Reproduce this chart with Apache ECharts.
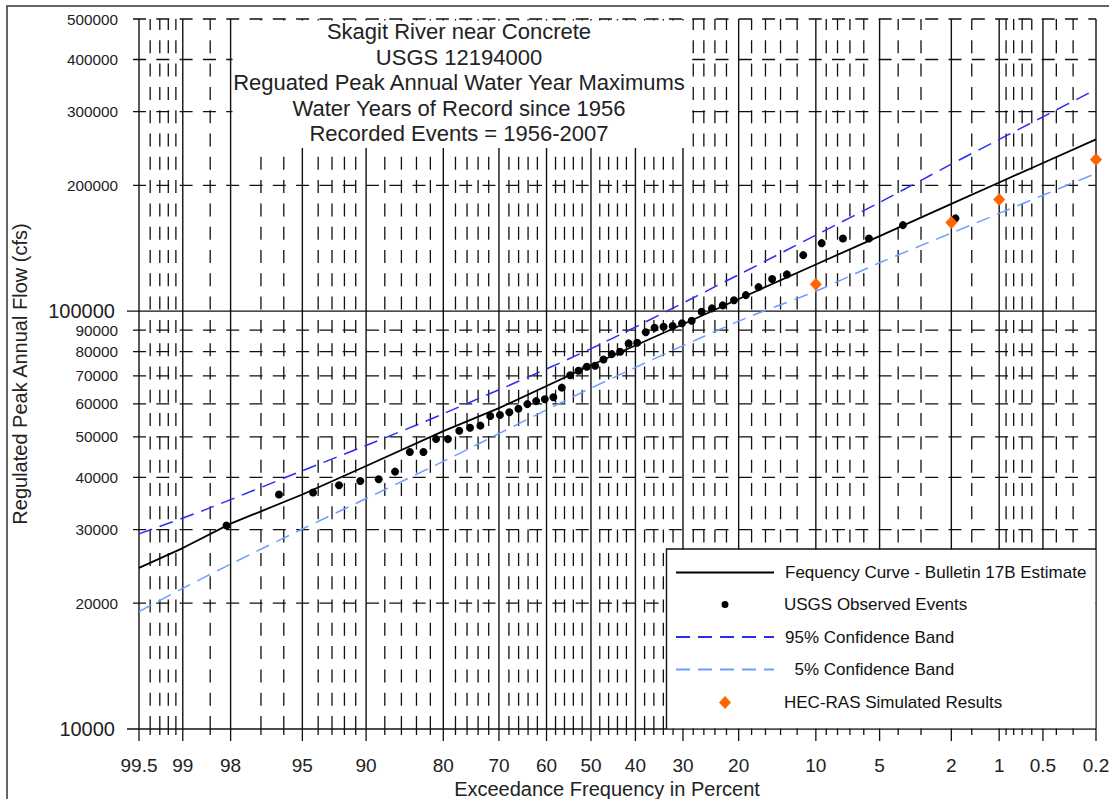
<!DOCTYPE html>
<html>
<head>
<meta charset="utf-8">
<script src="https://cdn.jsdelivr.net/npm/echarts@6/dist/echarts.min.js"></script>
<style>html,body{margin:0;padding:0;background:#fff}#c{width:1109px;height:799px}</style>
</head>
<body>
<div id="c"></div>
<script>
// ---------------- DATA ----------------
const titleLines = [
  'Skagit River near Concrete',
  'USGS 12194000',
  'Reguated Peak Annual Water Year Maximums',
  'Water Years of Record since 1956',
  'Recorded Events = 1956-2007'
];
const xAxisTitle = 'Exceedance Frequency in Percent';
const yAxisTitle = 'Regulated Peak Annual Flow (cfs)';

// exceedance-percent grid (normal probability paper)
const xMajorProbs = [99.5, 99, 98, 95, 90, 80, 70, 60, 50, 40, 30, 20, 10, 5, 2, 1, 0.5, 0.2];
const xTickLabels = ['99.5', '99', '98', '95', '90', '80', '70', '60', '50', '40', '30', '20', '10', '5', '2', '1', '0.5', '0.2'];
const xMinorProbs = [99.4, 99.3, 99.2, 99.1, 98.5, 97, 96, 94, 93, 92, 91, 88, 86, 84, 82, 78, 76, 74, 72,
  68, 66, 64, 62, 58, 56, 54, 52, 48, 46, 44, 42, 38, 36, 34, 32, 28, 26, 24, 22, 18, 16, 14, 12,
  9, 8, 7, 6, 4, 3, 1.5, 0.9, 0.8, 0.7, 0.6, 0.4, 0.3];

// flow grid (log)
const yMajorFlows = [10000, 100000];
const yMajorLabels = ['10000', '100000'];
const yMinorFlows = [20000, 30000, 40000, 50000, 60000, 70000, 80000, 90000, 200000, 300000, 400000, 500000];
const yMinorLabels = ['20000', '30000', '40000', '50000', '60000', '70000', '80000', '90000', '200000', '300000', '400000', '500000'];
const yMin = 10000, yMax = 500000;
const xMinProb = 99.5, xMaxProb = 0.2;

// Frequency curve - Bulletin 17B estimate
const curveProbs = [99.5, 99, 98, 95, 90, 80, 70, 50, 30, 20, 10, 5, 2, 1, 0.5, 0.2];
const curveFlows = [24300, 27100, 31000, 36400, 42600, 51600, 58600, 74200, 93000, 106900, 129300, 151200, 180500, 203100, 226200, 257500];

// 95% confidence band
const upperProbs = [99.5, 98.6, 95, 90, 80, 50, 20, 10, 5, 2, 1, 0.5, 0.2];
const upperFlows = [29300, 33500, 41500, 47700, 56800, 81300, 122200, 152000, 182000, 224700, 257500, 291700, 339200];

// 5% confidence band
const lowerProbs = [99.5, 99, 98, 95, 90, 80, 50, 20, 10, 5, 2, 1, 0.5, 0.2];
const lowerFlows = [19100, 21700, 24800, 30100, 35600, 43700, 65400, 94600, 111600, 130500, 153700, 171300, 189400, 213500];

// USGS observed events (plotting positions, %)
const obsProbs = [1.89, 3.77, 5.66, 7.55, 9.43, 11.32, 13.21, 15.09, 16.98, 18.87, 20.75, 22.64, 24.53,
  26.42, 28.30, 30.19, 32.08, 33.96, 35.85, 37.74, 39.62, 41.51, 43.40, 45.28, 47.17, 49.06, 50.94,
  52.83, 54.72, 56.60, 58.49, 60.38, 62.26, 64.15, 66.04, 67.92, 69.81, 71.70, 73.58, 75.47, 77.36,
  79.25, 81.13, 83.02, 84.91, 86.79, 88.68, 90.57, 92.45, 94.34, 96.23, 98.11];
const obsFlows = [166700, 160600, 149200, 149200, 145400, 136100, 122400, 119300, 114100, 109200, 106200, 103200, 101500,
  99600, 94800, 93500, 92100, 91700, 91200, 89000, 84000, 83700, 79900, 78900, 76600, 74000, 73600,
  72000, 70200, 65600, 62200, 61500, 60900, 59900, 58400, 57300, 56400, 56100, 53200, 52600, 51700,
  49400, 49400, 46000, 46000, 41300, 39600, 39200, 38300, 36800, 36400, 30700];

// HEC-RAS simulated results
const hecProbs = [10, 2, 1, 0.2];
const hecFlows = [116000, 163000, 185000, 230700];

// -------------- helpers --------------
// inverse standard normal CDF (Acklam)
function invNorm(p) {
  const a = [-39.69683028665376, 220.9460984245205, -275.9285104469687, 138.3577518672690, -30.66479806614716, 2.506628277459239];
  const b = [-54.47609879822406, 161.5858368580409, -155.6989798598866, 66.80131188771972, -13.28068155288572];
  const c = [-0.007784894002430293, -0.3223964580411365, -2.400758277161838, -2.549732539343734, 4.374664141464968, 2.938163982698783];
  const d = [0.007784695709041462, 0.3224671290700398, 2.445134137142996, 3.754408661907416];
  const pl = 0.02425, ph = 1 - pl;
  let q, r;
  if (p < pl) {
    q = Math.sqrt(-2 * Math.log(p));
    return (((((c[0]*q+c[1])*q+c[2])*q+c[3])*q+c[4])*q+c[5]) / ((((d[0]*q+d[1])*q+d[2])*q+d[3])*q+1);
  }
  if (p <= ph) {
    q = p - 0.5; r = q * q;
    return (((((a[0]*r+a[1])*r+a[2])*r+a[3])*r+a[4])*r+a[5])*q / (((((b[0]*r+b[1])*r+b[2])*r+b[3])*r+b[4])*r+1);
  }
  q = Math.sqrt(-2 * Math.log(1 - p));
  return -(((((c[0]*q+c[1])*q+c[2])*q+c[3])*q+c[4])*q+c[5]) / ((((d[0]*q+d[1])*q+d[2])*q+d[3])*q+1);
}
// exceedance percent -> normal-probability-paper coordinate
const pz = p => invNorm(1 - p / 100);
const pairs = (ps, fs) => ps.map((p, i) => [pz(p), fs[i]]);

const FONT = '"Liberation Sans", Arial, Helvetica, sans-serif';
const INK = '#111';
const GRID_W = 1.3;
const DASH = [13, 10.3];
const zMin = pz(xMinProb), zMax = pz(xMaxProb);

// grid data
const vData = xMajorProbs.map((p, i) => [pz(p), yMin, 1, i]).concat(xMinorProbs.map(p => [pz(p), yMin, 0, -1]));
const hData = yMajorFlows.map((f, i) => [zMin, f, 1, i]).concat(yMinorFlows.map((f, i) => [zMin, f, 0, i]));

function vRender(params, api) {
  const z = api.value(0), major = api.value(2), li = api.value(3);
  const b = api.coord([z, yMin]), t = api.coord([z, yMax]);
  const x = b[0];
  const ch = [
    { type: 'line', shape: { x1: x, y1: b[1], x2: x, y2: t[1] },
      style: { stroke: INK, lineWidth: major ? 1.4 : GRID_W, lineDash: major ? null : DASH, fill: null } },
    { type: 'line', shape: { x1: x, y1: b[1], x2: x, y2: b[1] + (major ? 12 : 6) },
      style: { stroke: INK, lineWidth: GRID_W } }
  ];
  if (major) {
    ch.push({ type: 'text', x: x, y: b[1] + 36.5,
      style: { text: xTickLabels[li], fontSize: 19, fontFamily: FONT, fill: '#222', align: 'center', verticalAlign: 'middle' } });
  }
  return { type: 'group', children: ch };
}
function hRender(params, api) {
  const f = api.value(1), major = api.value(2), li = api.value(3);
  const l = api.coord([zMin, f]), r = api.coord([zMax, f]);
  const x0 = l[0] - (major ? 12 : 6);
  return { type: 'group', children: [
    { type: 'line', shape: { x1: x0, y1: l[1], x2: r[0], y2: l[1] },
      style: { stroke: INK, lineWidth: major ? 1.4 : GRID_W, lineDash: major ? null : DASH, fill: null } },
    { type: 'text', x: l[0] - (major ? 24 : 21), y: l[1],
      style: { text: major ? yMajorLabels[li] : yMinorLabels[li], fontSize: major ? 20 : 15.3, fontFamily: FONT,
        fill: '#222', align: 'right', verticalAlign: 'middle' } }
  ] };
}

const NAMES = {
  curve: 'Fequency Curve - Bulletin 17B Estimate',
  obs: 'USGS Observed Events',
  up: '95% Confidence Band',
  low: '  5% Confidence Band',
  hec: 'HEC-RAS Simulated Results'
};
// legend icons drawn in a 98x20 box (corner specks fix the box size)
const BOX = 'M0,0L0.01,0L0.01,0.01Z M98,20L97.99,20L97.99,19.99Z ';
const DOT_ICON = 'path://' + BOX + 'M53.5,10A3.5,3.5,0,1,1,46.5,10A3.5,3.5,0,1,1,53.5,10Z';
const DIAMOND_ICON = 'path://' + BOX + 'M50,3.5L56,10L50,16.5L44,10Z';

function legendFor(item, cy) {
  return {
    data: [item], left: 675, top: cy - 10, padding: 0, itemWidth: 98, itemHeight: 20,
    selectedMode: false, z: 8, symbolKeepAspect: true,
    textStyle: { fontSize: 17, fontFamily: FONT, color: '#111', lineHeight: 20, padding: [0, 0, 0, 6] }
  };
}

const chart = echarts.init(document.getElementById('c'), null, { renderer: 'svg' });
chart.setOption({
  animation: false,
  backgroundColor: '#fff',
  grid: { left: 139, right: 13, top: 19, bottom: 70, show: false },
  xAxis: { type: 'value', min: zMin, max: zMax, show: false },
  yAxis: { type: 'log', logBase: 10, min: yMin, max: yMax, show: false },
  legend: [
    legendFor({ name: NAMES.curve, itemStyle: { opacity: 0 } }, 572.5),
    legendFor({ name: NAMES.obs, icon: DOT_ICON }, 604.5),
    legendFor({ name: NAMES.up, itemStyle: { opacity: 0 } }, 637),
    legendFor({ name: NAMES.low, itemStyle: { opacity: 0 } }, 669.5),
    legendFor({ name: NAMES.hec, icon: DIAMOND_ICON }, 702.5)
  ],
  graphic: [
    { type: 'rect', z: 0, shape: { x: 7, y: 6, width: 1130, height: 830 },
      style: { fill: null, stroke: '#333', lineWidth: 1.5 } },
    // title box
    { type: 'rect', z: 10, shape: { x: 232.5, y: 20.5, width: 456, height: 127.5 }, style: { fill: '#fff', stroke: null } },
    ...titleLines.map((t, i) => ({
      type: 'text', z: 11, x: 459, y: 31.5 + i * 25.5,
      style: { text: t, fontSize: 22, fontFamily: FONT, fill: '#222', align: 'center', verticalAlign: 'middle' }
    })),
    // legend box
    { type: 'rect', z: 6, shape: { x: 667, y: 549.5, width: 428.3, height: 178.8 }, style: { fill: '#fff', stroke: null } },
    { type: 'polyline', z: 7, shape: { points: [[666.5, 729], [666.5, 549], [1096, 549]] },
      style: { stroke: INK, lineWidth: 1.4, fill: null } },
    // axis titles
    { type: 'text', z: 5, x: 607, y: 788.5,
      style: { text: xAxisTitle, fontSize: 20, fontFamily: FONT, fill: '#222', align: 'center', verticalAlign: 'middle' } },
    { type: 'text', z: 5, x: 20, y: 374, rotation: Math.PI / 2,
      style: { text: yAxisTitle, fontSize: 20, fontFamily: FONT, fill: '#222', align: 'center', verticalAlign: 'middle' } }
  ],
  series: [
    { type: 'custom', name: 'vgrid', z: 1, silent: true, clip: false, renderItem: vRender, data: vData, encode: { x: 0, y: 1 } },
    { type: 'custom', name: 'hgrid', z: 1, silent: true, clip: false, renderItem: hRender, data: hData, encode: { x: 0, y: 1 } },
    { type: 'line', name: NAMES.curve, z: 3, data: pairs(curveProbs, curveFlows), symbol: 'none',
      lineStyle: { color: '#000', width: 1.8 }, itemStyle: { color: '#000' } },
    { type: 'scatter', name: NAMES.obs, z: 4, data: pairs(obsProbs, obsFlows), symbol: 'circle', symbolSize: 8,
      itemStyle: { color: '#000', opacity: 1 } },
    { type: 'line', name: NAMES.up, z: 3, data: pairs(upperProbs, upperFlows), symbol: 'none', smooth: 0.3,
      lineStyle: { color: '#2b2bf2', width: 1.5, type: [14, 8] }, itemStyle: { color: '#2b2bf2' } },
    { type: 'line', name: NAMES.low, z: 3, data: pairs(lowerProbs, lowerFlows), symbol: 'none', smooth: 0.3,
      lineStyle: { color: '#6f9cff', width: 1.5, type: [14, 8] }, itemStyle: { color: '#6f9cff' } },
    { type: 'scatter', name: NAMES.hec, z: 4, data: pairs(hecProbs, hecFlows), symbol: 'diamond', symbolSize: [12, 13],
      itemStyle: { color: '#ff6600', opacity: 1 } }
  ]
});
</script>
</body>
</html>
